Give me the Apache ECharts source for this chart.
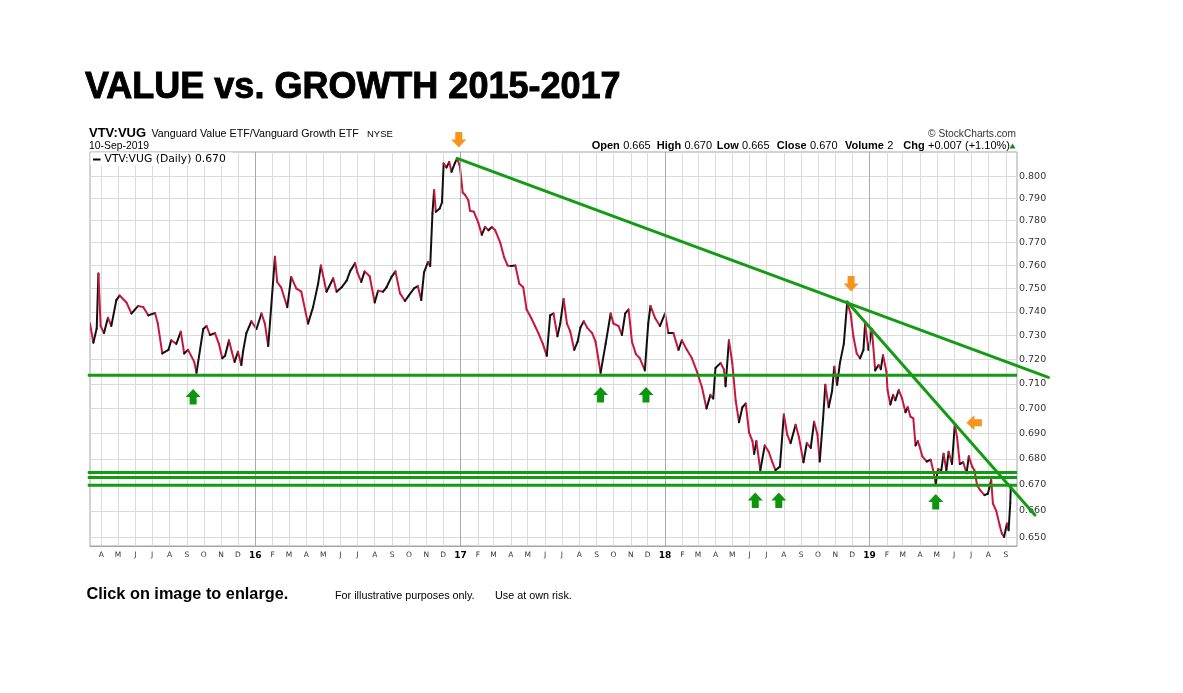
<!DOCTYPE html>
<html>
<head>
<meta charset="utf-8">
<script src="https://cdn.jsdelivr.net/npm/echarts@6/dist/echarts.min.js"></script>
<style>
html,body{margin:0;padding:0;background:#ffffff;}
#chart{width:1183px;height:693px;}
</style>
</head>
<body>
<div id="chart"></div>
<script>
// ---------------- DATA ----------------
const dates = [
'2015-03-12','2015-03-18','2015-03-24','2015-03-27','2015-03-31','2015-04-06','2015-04-13','2015-04-19','2015-04-28','2015-05-04',
'2015-05-16','2015-05-25','2015-06-06','2015-06-15','2015-06-24','2015-07-06','2015-07-11','2015-07-19','2015-07-30','2015-08-04',
'2015-08-13','2015-08-21','2015-08-27','2015-09-03','2015-09-14','2015-09-18','2015-09-30','2015-10-06','2015-10-12','2015-10-21',
'2015-10-28','2015-11-03','2015-11-08','2015-11-15','2015-11-20','2015-11-25','2015-12-01','2015-12-07','2015-12-10','2015-12-16',
'2015-12-25','2016-01-03','2016-01-12','2016-01-18','2016-01-24','2016-01-29','2016-02-05','2016-02-09','2016-02-16','2016-02-27',
'2016-03-05','2016-03-14','2016-03-23','2016-04-04','2016-04-13','2016-04-22','2016-04-27','2016-05-07','2016-05-19','2016-05-25',
'2016-06-03','2016-06-12','2016-06-18','2016-06-27','2016-07-01','2016-07-08','2016-07-14','2016-07-23','2016-08-01','2016-08-07',
'2016-08-16','2016-08-22','2016-08-31','2016-09-07','2016-09-15','2016-09-24','2016-10-01','2016-10-10','2016-10-17','2016-10-23',
'2016-10-28','2016-11-04','2016-11-08','2016-11-12','2016-11-15','2016-11-18','2016-11-25','2016-11-29','2016-12-02','2016-12-07',
'2016-12-12','2016-12-16','2016-12-22','2016-12-26','2016-12-31','2017-01-05','2017-01-09','2017-01-15','2017-01-18','2017-01-25',
'2017-02-02','2017-02-08','2017-02-14','2017-02-20','2017-02-26','2017-03-04','2017-03-13','2017-03-20','2017-03-26','2017-04-01',
'2017-04-09','2017-04-16','2017-04-23','2017-04-29','2017-05-07','2017-05-14','2017-05-20','2017-05-28','2017-06-04','2017-06-10',
'2017-06-16','2017-06-23','2017-06-28','2017-07-04','2017-07-10','2017-07-16','2017-07-23','2017-07-29','2017-08-03','2017-08-09',
'2017-08-15','2017-08-24','2017-08-30','2017-09-08','2017-09-17','2017-09-26','2017-10-01','2017-10-10','2017-10-16','2017-10-22',
'2017-10-28','2017-11-03','2017-11-10','2017-11-17','2017-11-26','2017-12-02','2017-12-06','2017-12-14','2017-12-23','2018-01-01',
'2018-01-07','2018-01-16','2018-01-25','2018-01-31','2018-02-09','2018-02-18','2018-02-27','2018-03-08','2018-03-16','2018-03-23',
'2018-03-28','2018-04-01','2018-04-10','2018-04-16','2018-04-19','2018-04-25','2018-05-01','2018-05-07','2018-05-13','2018-05-19',
'2018-05-25','2018-05-31','2018-06-06','2018-06-09','2018-06-13','2018-06-20','2018-06-28','2018-07-05','2018-07-11','2018-07-17',
'2018-07-25','2018-08-01','2018-08-07','2018-08-13','2018-08-22','2018-08-28','2018-09-05','2018-09-11','2018-09-18','2018-09-24',
'2018-09-30','2018-10-04','2018-10-10','2018-10-14','2018-10-20','2018-10-26','2018-10-30','2018-11-04','2018-11-09','2018-11-16',
'2018-11-22','2018-11-28','2018-12-03','2018-12-09','2018-12-15','2018-12-21','2018-12-24','2018-12-30','2019-01-05','2019-01-11',
'2019-01-17','2019-01-21','2019-01-25','2019-01-31','2019-02-02','2019-02-07','2019-02-12','2019-02-16','2019-02-22','2019-02-28',
'2019-03-06','2019-03-10','2019-03-15','2019-03-20','2019-03-24','2019-03-28','2019-04-01','2019-04-05','2019-04-13','2019-04-20',
'2019-04-25','2019-04-29','2019-05-03','2019-05-09','2019-05-13','2019-05-18','2019-05-22','2019-05-28','2019-06-02','2019-06-06',
'2019-06-11','2019-06-17','2019-06-23','2019-06-27','2019-07-03','2019-07-07','2019-07-12','2019-07-18','2019-07-25','2019-07-31',
'2019-08-06','2019-08-09','2019-08-15','2019-08-21','2019-08-25','2019-08-29','2019-09-03','2019-09-06','2019-09-09','2019-09-10'
];
const ratio = [
0.735,0.727,0.733,0.7565,0.734,0.731,0.7375,0.734,0.745,0.747,
0.744,0.7393,0.7425,0.742,0.7385,0.7395,0.735,0.7225,0.724,0.728,
0.7265,0.7316,0.7225,0.724,0.719,0.7145,0.7327,0.734,0.7302,0.731,
0.7265,0.7205,0.7215,0.728,0.7232,0.719,0.7232,0.7177,0.7232,0.731,
0.736,0.7327,0.7393,0.735,0.7256,0.7412,0.7638,0.7528,0.7505,0.742,
0.755,0.750,0.7486,0.735,0.742,0.752,0.760,0.7486,0.7544,0.7486,
0.7505,0.7534,0.7574,0.761,0.757,0.7528,0.7574,0.7553,0.744,0.749,
0.7486,0.7505,0.755,0.7574,0.748,0.7446,0.747,0.750,0.751,0.745,
0.757,0.7615,0.7597,0.783,0.7936,0.7838,0.7853,0.788,0.8059,0.804,
0.8066,0.802,0.806,0.8082,0.8045,0.7925,0.7915,0.789,0.7843,0.7838,
0.7788,0.7735,0.777,0.7755,0.777,0.7755,0.770,0.7635,0.760,0.7597,
0.760,0.752,0.7505,0.741,0.7375,0.734,0.731,0.7265,0.7215,0.7385,
0.7393,0.7297,0.735,0.7455,0.735,0.7316,0.724,0.7274,0.7333,0.736,
0.7333,0.731,0.7274,0.7145,0.7265,0.7393,0.735,0.734,0.7302,0.7393,
0.741,0.7274,0.7222,0.7205,0.7155,0.735,0.7425,0.7375,0.734,0.7393,
0.731,0.731,0.724,0.728,0.724,0.7205,0.715,0.7085,0.700,0.7055,
0.704,0.7165,0.7185,0.716,0.709,0.728,0.7185,0.7033,0.6945,0.7005,
0.702,0.6904,0.687,0.682,0.687,0.6756,0.6853,0.6828,0.679,0.6756,
0.677,0.6976,0.6896,0.6862,0.6935,0.6885,0.6787,0.6862,0.6843,0.6947,
0.6896,0.679,0.696,0.7096,0.7005,0.707,0.717,0.7096,0.7185,0.7265,
0.744,0.7393,0.7297,0.7225,0.7205,0.724,0.735,0.724,0.7327,0.7155,
0.7177,0.716,0.7218,0.715,0.7075,0.7016,0.7055,0.7033,0.7075,0.704,
0.6985,0.7005,0.6967,0.696,0.6853,0.687,0.6843,0.681,0.679,0.6797,
0.675,0.6704,0.676,0.6756,0.682,0.6756,0.6828,0.678,0.6935,0.6886,
0.678,0.6787,0.6744,0.681,0.677,0.6756,0.6696,0.6677,0.666,0.6665,
0.6718,0.6628,0.660,0.6546,0.6515,0.6502,0.6552,0.6527,0.663,0.670
];
const monthTicks = [
'2015-04-01','2015-05-01','2015-06-01','2015-07-01','2015-08-01','2015-09-01','2015-10-01','2015-11-01','2015-12-01',
'2016-01-01','2016-02-01','2016-03-01','2016-04-01','2016-05-01','2016-06-01','2016-07-01','2016-08-01','2016-09-01','2016-10-01','2016-11-01','2016-12-01',
'2017-01-01','2017-02-01','2017-03-01','2017-04-01','2017-05-01','2017-06-01','2017-07-01','2017-08-01','2017-09-01','2017-10-01','2017-11-01','2017-12-01',
'2018-01-01','2018-02-01','2018-03-01','2018-04-01','2018-05-01','2018-06-01','2018-07-01','2018-08-01','2018-09-01','2018-10-01','2018-11-01','2018-12-01',
'2019-01-01','2019-02-01','2019-03-01','2019-04-01','2019-05-01','2019-06-01','2019-07-01','2019-08-01','2019-09-01'
];
const monthLetters = ['J','F','M','A','M','J','J','A','S','O','N','D'];
const yearStarts = ['2016-01-01','2017-01-01','2018-01-01','2019-01-01'];
const yTicks = [0.65,0.66,0.67,0.68,0.69,0.70,0.71,0.72,0.73,0.74,0.75,0.76,0.77,0.78,0.79,0.80];
const xRange = ['2015-03-12','2019-09-21'];
const yRange = [0.6468, 0.8112];
// annotations (data coordinates)
const supportLevels = [0.7135, 0.6747, 0.6728, 0.6698];
const trendLines = [
  [['2016-12-26', 0.8082], ['2019-11-16', 0.7126]],
  [['2018-11-22', 0.7443], ['2019-10-23', 0.6584]]
];
const arrows = [
  {date:'2016-12-29', value:0.8170, dir:'down', color:'orange'},
  {date:'2018-11-29', value:0.7521, dir:'down', color:'orange'},
  {date:'2019-07-07', value:0.6943, dir:'left', color:'orange'},
  {date:'2015-09-12', value:0.7046, dir:'up', color:'green'},
  {date:'2017-09-08', value:0.7054, dir:'up', color:'green'},
  {date:'2017-11-28', value:0.7054, dir:'up', color:'green'},
  {date:'2018-06-11', value:0.6639, dir:'up', color:'green'},
  {date:'2018-07-23', value:0.6639, dir:'up', color:'green'},
  {date:'2019-04-29', value:0.6634, dir:'up', color:'green'}
];
const quote = [['Open','0.665'],['High','0.670'],['Low','0.665'],['Close','0.670'],['Volume','2'],['Chg','+0.007 (+1.10%)']];

// ---------------- HELPERS ----------------
const ts = s => { const p = s.split('-'); return new Date(+p[0], +p[1]-1, +p[2]).getTime(); };
const UP = '#111111', DOWN = '#c8163c', GREEN = '#149b14', ORANGE = '#f7941d', ARROW_GREEN = '#0d960d';

const segData = dates.map((d, i) => {
  const j = i === 0 ? 0 : i - 1;
  return [ts(d), ratio[i], ts(dates[j]), ratio[j]];
});

const chart = echarts.init(document.getElementById('chart'), null, {renderer:'canvas'});

const option = {
  animation: false,
  backgroundColor: '#ffffff',
  grid: {left: 90, right: 166, top: 152, bottom: 147, show: true, borderColor: '#a4a4a4', borderWidth: 1, backgroundColor: 'transparent', containLabel: false},
  xAxis: {
    type: 'value',
    min: ts(xRange[0]), max: ts(xRange[1]),
    axisLine: {show: true, onZero: false, lineStyle: {color: '#a4a4a4', width: 1}},
    axisTick: {show: false, customValues: monthTicks.map(ts)},
    splitLine: {show: true, lineStyle: {color: '#dadada', width: 1}},
    axisLabel: {
      customValues: monthTicks.map(ts),
      margin: 5, showMinLabel: true, showMaxLabel: true,
      fontFamily: 'DejaVu Sans', fontSize: 7.5, color: '#333333',
      formatter: v => { const d = new Date(v); const m = d.getMonth(); return m === 0 ? '{yr|' + String(d.getFullYear()).slice(2) + '}' : monthLetters[m]; },
      rich: {yr: {fontFamily: 'DejaVu Sans', fontSize: 9, fontWeight: 'bold', color: '#000000'}}
    }
  },
  yAxis: {
    type: 'log', logBase: 10, position: 'right',
    min: yRange[0], max: yRange[1],
    axisLine: {show: false},
    axisTick: {show: false, customValues: yTicks},
    splitLine: {show: true, lineStyle: {color: '#dadada', width: 1}},
    axisLabel: {customValues: yTicks, margin: 2, showMinLabel: true, showMaxLabel: true, fontFamily: 'DejaVu Sans', fontSize: 9.5, color: '#333333', formatter: v => Number(v).toFixed(3)}
  },
  series: [
    {
      type: 'line', data: [], silent: true, z: 1,
      markLine: {silent: true, symbol: ['none','none'], label: {show: false}, animation: false,
        lineStyle: {color: '#a9a9a9', type: 'solid', width: 1},
        data: yearStarts.map(d => ({xAxis: ts(d)}))}
    },
    {
      type: 'custom', name: 'VTV:VUG', z: 3, clip: true,
      dimensions: ['t','v','pt','pv'],
      encode: {x: 't', y: 'v'},
      data: segData,
      renderItem: (params, api) => {
        if (params.dataIndex === 0) return null;
        const p1 = api.coord([api.value(0), api.value(1)]);
        const p0 = api.coord([api.value(2), api.value(3)]);
        return {type: 'line', shape: {x1: p0[0], y1: p0[1], x2: p1[0], y2: p1[1]},
          style: {stroke: api.value(1) >= api.value(3) ? UP : DOWN, lineWidth: 2, lineCap: 'round'}};
      }
    }
  ]
};
chart.setOption(option);

// ---------------- ANNOTATIONS & TEXT ----------------
const px = (d, v) => chart.convertToPixel({gridIndex: 0}, [ts(d), v]);
const arrowShapes = {
  down: [[-3.5,-7.5],[3.5,-7.5],[3.5,0],[7.5,0],[0,8],[-7.5,0],[-3.5,0]],
  up:   [[-3.5,7.5],[3.5,7.5],[3.5,0],[7.5,0],[0,-8],[-7.5,0],[-3.5,0]],
  left: [[7.5,-3.5],[7.5,3.5],[0,3.5],[0,7.5],[-8,0],[0,-7.5],[0,-3.5]]
};
const g = [];
supportLevels.forEach(v => {
  const a = px('2015-03-08', v), b = px(xRange[1], v);
  g.push({type:'line', z: 40, silent: true, shape:{x1:a[0], y1:a[1], x2:b[0], y2:b[1]}, style:{stroke: GREEN, lineWidth: 3}});
});
trendLines.forEach(t => {
  const a = px(t[0][0], t[0][1]), b = px(t[1][0], t[1][1]);
  g.push({type:'line', z: 41, silent: true, shape:{x1:a[0], y1:a[1], x2:b[0], y2:b[1]}, style:{stroke: GREEN, lineWidth: 3, lineCap:'round'}});
});
arrows.forEach(a => {
  const p = px(a.date, a.value);
  g.push({type:'polygon', z: 42, silent: true, x: p[0], y: p[1], shape:{points: arrowShapes[a.dir]}, style:{fill: a.color === 'orange' ? ORANGE : ARROW_GREEN}});
});

const txt = (x, y, text, font, fill, align, extra) => ({
  type:'text', x: x, y: y, z: 60, silent: true,
  style: Object.assign({text: text, font: font, fill: fill || '#000', align: align || 'left', verticalAlign: 'middle', textAlign: align || 'left', textVerticalAlign: 'middle'}, extra || {})
});

g.push(txt(85, 88, 'VALUE vs. GROWTH 2015-2017', 'bold 36px "Liberation Sans"', '#000', 'left', {stroke:'#000', lineWidth: 0.9}));
g.push(txt(89, 133, 'VTV:VUG', 'bold 13px "Liberation Sans"', '#000'));
g.push(txt(151.5, 133.6, 'Vanguard Value ETF/Vanguard Growth ETF', '10.7px "Liberation Sans"', '#000'));
g.push(txt(367, 134, 'NYSE', '9.5px "Liberation Sans"', '#000'));
g.push(txt(89, 146, '10-Sep-2019', '10.4px "Liberation Sans"', '#000'));
g.push(txt(1016, 134, '\u00A9 StockCharts.com', '10.2px "Liberation Sans"', '#333', 'right'));
const qx = [591.7, 656.7, 716.7, 776.7, 845, 903.3];
quote.forEach((q, i) => {
  g.push({type:'text', x: qx[i], y: 146.3, z: 60, silent: true,
    style:{text: '{b|' + q[0] + '} {n|' + q[1] + '}', align:'left', verticalAlign:'middle', textAlign:'left', textVerticalAlign:'middle',
      rich:{b:{font:'bold 11px "Liberation Sans"', fill:'#000', color:'#000'}, n:{font:'11px "Liberation Sans"', fill:'#000', color:'#000'}}}});
});
g.push({type:'polygon', z: 60, silent: true, shape:{points:[[1009.5,148.5],[1015.5,148.5],[1012.5,143.5]]}, style:{fill:'#1b8a1b'}});
// legend box
g.push({type:'rect', z: 55, silent: true, shape:{x: 90.5, y: 152.5, width: 142, height: 13}, style:{fill:'#ffffff'}});
g.push({type:'line', z: 60, silent: true, shape:{x1: 93, y1: 159.5, x2: 100.5, y2: 159.5}, style:{stroke:'#000', lineWidth: 2}});
g.push(txt(104.5, 159.5, 'VTV:VUG (Daily) 0.670', '10.8px "DejaVu Sans"', '#000'));
// footer
g.push(txt(86.5, 594.5, 'Click on image to enlarge.', 'bold 16.3px "Liberation Sans"', '#000'));
g.push(txt(335, 596, 'For illustrative purposes only.', '10.8px "Liberation Sans"', '#000'));
g.push(txt(495, 596, 'Use at own risk.', '10.8px "Liberation Sans"', '#000'));

chart.setOption({graphic: {elements: g}});
</script>
</body>
</html>
